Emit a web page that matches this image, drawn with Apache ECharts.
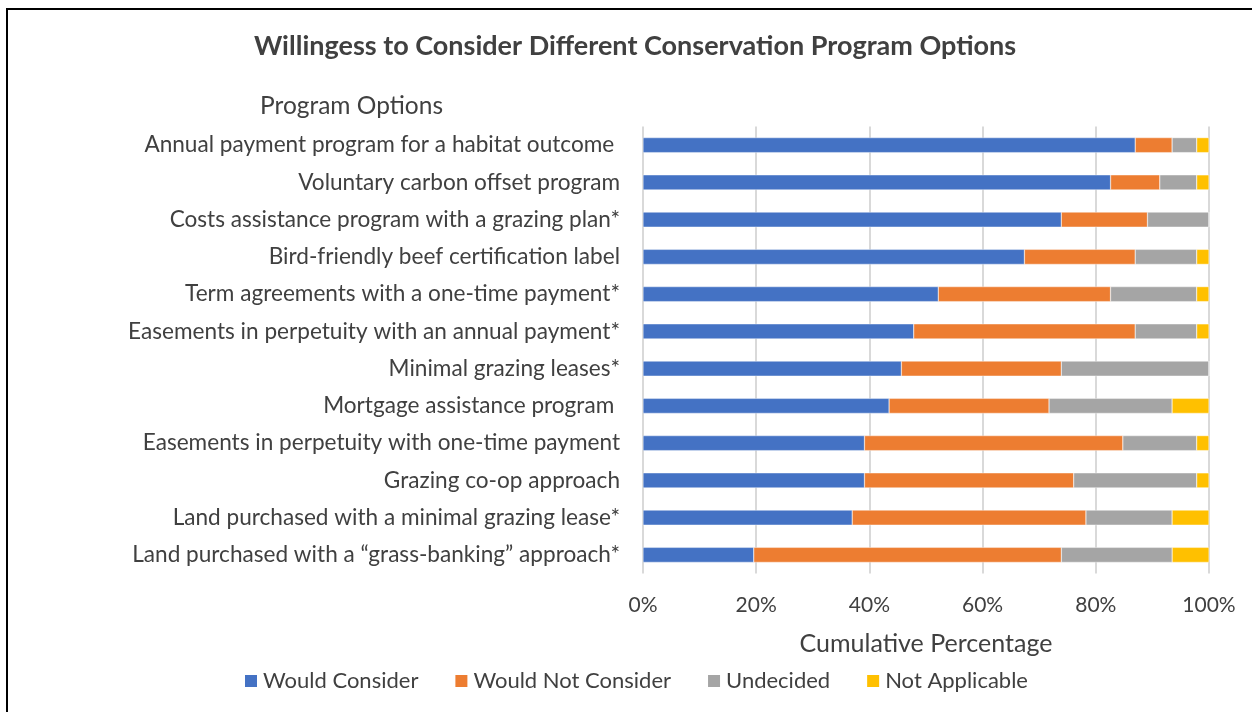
<!DOCTYPE html>
<html>
<head>
<meta charset="utf-8">
<style>
  html, body { margin: 0; padding: 0; background: #fff; }
  #chart { width: 1252px; height: 712px; }
</style>
<script src="https://cdn.jsdelivr.net/npm/echarts@6/dist/echarts.min.js"></script>
</head>
<body>
<div id="chart"></div>
<script>
// Program options, listed top to bottom
const categories = [
  'Annual payment program for a habitat outcome ',
  'Voluntary carbon offset program',
  'Costs assistance program with a grazing plan*',
  'Bird-friendly beef certification label',
  'Term agreements with a one-time payment*',
  'Easements in perpetuity with an annual payment*',
  'Minimal grazing leases*',
  'Mortgage assistance program ',
  'Easements in perpetuity with one-time payment',
  'Grazing co-op approach',
  'Land purchased with a minimal grazing lease*',
  'Land purchased with a \u201cgrass-banking\u201d approach*'
];

// Share of respondents (%) for each response
const wouldConsider    = [86.96, 82.61, 73.91, 67.39, 52.17, 47.83, 45.65, 43.48, 39.13, 39.13, 36.96, 19.57];
const wouldNotConsider = [6.52, 8.70, 15.22, 19.57, 30.43, 39.13, 28.26, 28.26, 45.65, 36.96, 41.30, 54.35];
const undecided        = [4.35, 6.52, 10.87, 10.87, 15.22, 10.87, 26.09, 21.74, 13.04, 21.74, 15.22, 19.57];
const notApplicable    = [2.17, 2.17, 0, 2.17, 2.17, 2.17, 0, 6.52, 2.17, 2.17, 6.52, 6.52];

const xTicks = [0, 20, 40, 60, 80, 100];

const FONT = 'Lato, "Open Sans", sans-serif';
const TEXT = '#404040';

const seriesDefs = [
  { name: 'Would Consider', data: wouldConsider, color: '#4472C4' },
  { name: 'Would Not Consider', data: wouldNotConsider, color: '#ED7D31' },
  { name: 'Undecided', data: undecided, color: '#A5A5A5' },
  { name: 'Not Applicable', data: notApplicable, color: '#FFC000' }
];

const chart = echarts.init(document.getElementById('chart'), null, { renderer: 'canvas' });

chart.setOption({
  backgroundColor: '#ffffff',
  animation: false,
  textStyle: { fontFamily: FONT, color: TEXT },
  title: {
    text: 'Willingess to Consider Different Conservation Program Options',
    left: 630,
    textAlign: 'center',
    top: 28,
    textStyle: { fontFamily: FONT, fontSize: 27, fontWeight: 'bold', color: TEXT }
  },
  legend: {
    left: 243,
    top: 670,
    padding: 0,
    itemWidth: 14,
    itemHeight: 14,
    itemGap: 35,
    icon: 'rect',
    textStyle: { fontFamily: FONT, fontSize: 22, color: TEXT },
    data: seriesDefs.map(s => s.name)
  },
  grid: {
    left: 643,
    right: 43,
    top: 126.5,
    bottom: 138.5,
    containLabel: false
  },
  xAxis: {
    type: 'value',
    min: xTicks[0],
    max: xTicks[xTicks.length - 1],
    interval: 20,
    name: 'Cumulative Percentage',
    nameLocation: 'middle',
    nameGap: 58,
    nameTextStyle: { fontFamily: FONT, fontSize: 25, color: TEXT },
    axisLine: { show: false },
    axisTick: { show: false },
    axisLabel: {
      margin: 21,
      fontFamily: FONT,
      fontSize: 21,
      color: TEXT,
      formatter: v => v + '%'
    },
    splitLine: { show: true, lineStyle: { color: '#d9d9d9', width: 2 } }
  },
  yAxis: {
    type: 'category',
    inverse: true,
    data: categories,
    name: 'Program Options',
    nameLocation: 'start',
    nameGap: 8,
    nameTextStyle: {
      fontFamily: FONT, fontSize: 24.5, color: TEXT,
      align: 'right', padding: [0, 200, 0, 0]
    },
    axisLine: { show: false },
    axisTick: { show: false },
    axisLabel: { margin: 23, fontFamily: FONT, fontSize: 22.6, color: TEXT }
  },
  series: seriesDefs.map(s => ({
    name: s.name,
    type: 'bar',
    stack: 'total',
    barWidth: 15,
    data: s.data,
    itemStyle: { color: s.color, borderColor: '#ffffff', borderWidth: 0.4 }
  })),
  graphic: [
    {
      type: 'polyline',
      shape: { points: [[7, 760], [7, 9], [1300, 9]] },
      style: { stroke: '#000000', lineWidth: 2, fill: null },
      silent: true
    }
  ]
});
</script>
</body>
</html>
